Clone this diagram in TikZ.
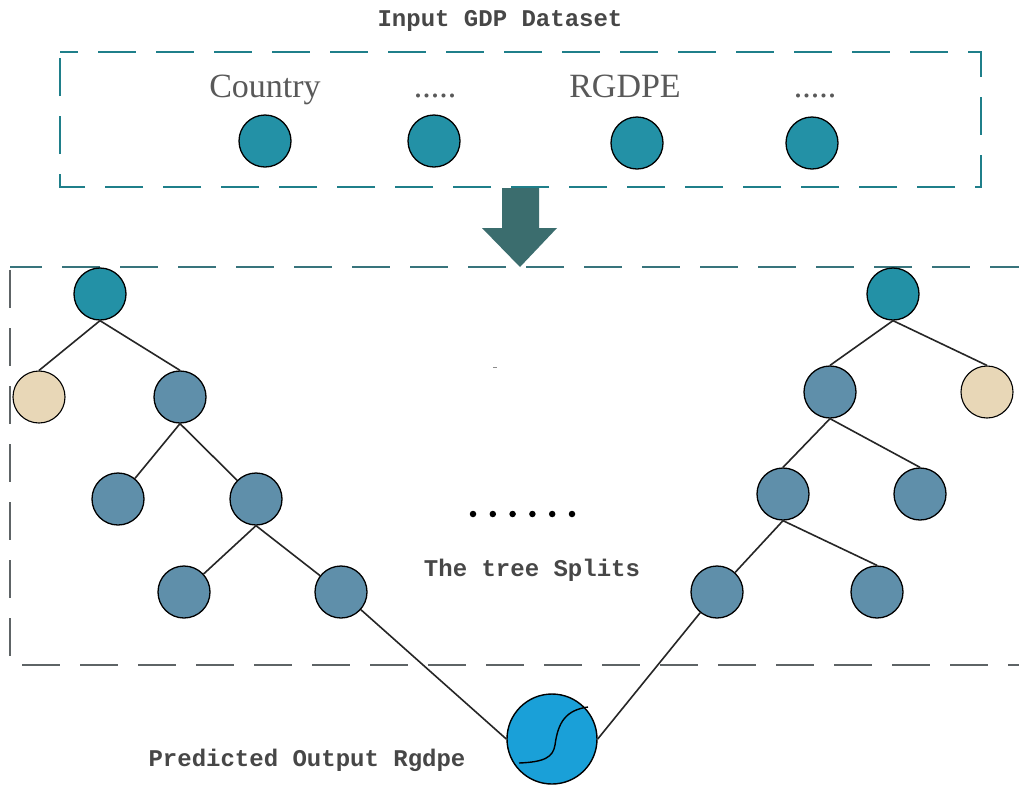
\documentclass[tikz,border=0pt]{standalone}
\usepackage{fontspec}
\setmainfont{Liberation Serif}
\newfontfamily\monob{Liberation Mono}
\begin{document}
\begin{tikzpicture}[x=1pt,y=-1pt,
  toprow/.style={circle,draw=black,line width=1.3pt,fill=tealA,minimum size=52pt,inner sep=0pt},
  inner/.style={circle,draw=black,line width=1.3pt,fill=steelB,minimum size=52pt,inner sep=0pt},
  leaf/.style={circle,draw=black,line width=1.1pt,fill=beigeC,minimum size=52pt,inner sep=0pt},
  edge/.style={draw=black!85,line width=1.6pt},
  monolabel/.style={font=\monob\bfseries\fontsize{24}{26}\selectfont,text=black!72,inner sep=0pt},
  seriflabel/.style={font=\fontsize{34}{38}\selectfont,text=black!65,inner sep=0pt,anchor=base},
  boxdash/.style={line width=1.6pt,dash pattern=on 38pt off 20pt},
  dotnode/.style={circle,fill=black,minimum size=6.5pt,inner sep=0pt}
]
\definecolor{tealA}{HTML}{2391A6}
\definecolor{steelB}{HTML}{5F8FAA}
\definecolor{beigeC}{HTML}{E8D7B7}
\definecolor{bluePred}{HTML}{1AA0D8}
\definecolor{boxteal}{HTML}{1F7F8A}
\definecolor{arrowc}{HTML}{3B6D6E}
\definecolor{lowgray}{HTML}{5E6466}
\useasboundingbox (0,0) rectangle (1019,785);
\fill[white] (0,0) rectangle (1019,785);

% top dataset box
\node[monolabel] (title) at (500,21) {Input GDP Dataset};
\draw[boxdash,draw=boxteal,dash phase=20pt] (60,52) -- (981,52) -- (981,187) -- (60,187) -- cycle;
\node[seriflabel] (country) at (265,97) {Country};
\node[seriflabel] (dots1) at (435,97) {.....};
\node[seriflabel] (rgdpe) at (625,97) {RGDPE};
\node[seriflabel] (dots2) at (815,97) {.....};
\node[toprow] (c1) at (265,141) {};
\node[toprow] (c2) at (434,141) {};
\node[toprow] (c3) at (637,143) {};
\node[toprow] (c4) at (812,143) {};

% arrow
\fill[arrowc] (502,188) -- (539,188) -- (539,228) -- (557,228) -- (520,267) -- (482,228) -- (502,228) -- cycle;

% lower box
\draw[boxdash,draw=boxteal!60!lowgray,dash phase=6pt] (10,267) -- (1019,267);
\draw[boxdash,draw=lowgray,dash phase=0pt] (10,270) -- (10,665);
\draw[boxdash,draw=lowgray,dash phase=0pt] (22,665) -- (1019,665);

% left tree
\node[toprow] (lr) at (100,294) {};
\node[leaf] (ll) at (39,397) {};
\node[inner] (la) at (180,397) {};
\node[inner] (lb) at (118,499) {};
\node[inner] (lc) at (256,499) {};
\node[inner] (ld) at (184,592) {};
\node[inner] (le) at (341,592) {};
\draw[edge] (lr.south) -- (ll.north);
\draw[edge] (lr.south) -- (la.north);
\draw[edge] (la.south) -- (lb);
\draw[edge] (la.south) -- (lc);
\draw[edge] (lc.south) -- (ld);
\draw[edge] (lc.south) -- (le);

% right tree
\node[toprow] (rr) at (893,294) {};
\node[inner] (ra) at (830,392) {};
\node[leaf] (rl) at (987,392) {};
\node[inner] (rb) at (783,494) {};
\node[inner] (rc) at (920,494) {};
\node[inner] (rd) at (717,592) {};
\node[inner] (re) at (877,592) {};
\draw[edge] (rr.south) -- (ra.north);
\draw[edge] (rr.south) -- (rl.north);
\draw[edge] (ra.south) -- (rb.north);
\draw[edge] (ra.south) -- (rc.north);
\draw[edge] (rb.south) -- (rd);
\draw[edge] (rb.south) -- (re.north);

% middle
\draw[black!45,line width=0.8pt] (493,367) -- (497,367);
\foreach \i in {0,...,5}{\node[dotnode] (dot\i) at (473+19.8*\i,514) {};}
\node[monolabel] (splits) at (532,570) {The tree Splits};

% prediction
\node[circle,draw=black,line width=1.4pt,fill=bluePred,minimum size=90pt,inner sep=0pt] (pred) at (552,739) {};
\draw[black,line width=1.4pt] (519,763) .. controls (545,762) and (553,757) .. (555,745) .. controls (558,722) and (566,710) .. (588,707);
\draw[edge] (le) -- (pred.west);
\draw[edge] (rd) -- (pred.east);
\node[monolabel] (predlabel) at (307,760) {Predicted Output Rgdpe};
\end{tikzpicture}
\end{document}
